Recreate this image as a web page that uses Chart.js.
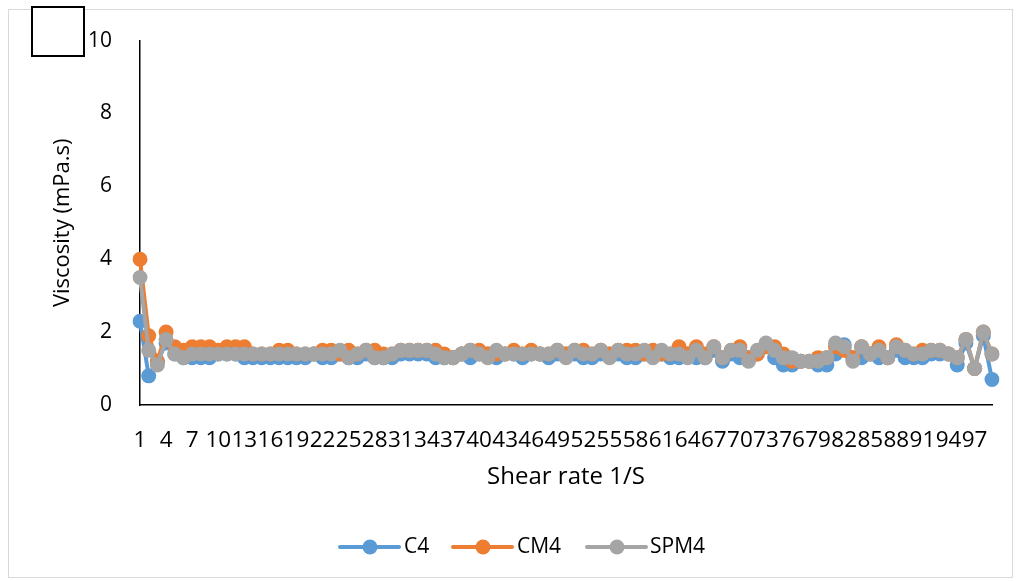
<!DOCTYPE html>
<html>
<head>
<meta charset="utf-8">
<script src="https://cdn.jsdelivr.net/npm/chart.js@4.4.1/dist/chart.umd.min.js"></script>
<style>
  html, body { margin: 0; padding: 0; background: #fff; }
  #wrap { position: relative; width: 1022px; height: 581px; }
  #frame { position: absolute; left: 8px; top: 9px; width: 1005px; height: 569px; border: 1px solid #d9d9d9; box-sizing: border-box; }
  #box { position: absolute; left: 31px; top: 6px; width: 54px; height: 51px; border: 2px solid #000; background: #fff; box-sizing: border-box; z-index: 2; }
  canvas { position: absolute; left: 0; top: 0; }
</style>
</head>
<body>
<div id="wrap">
  <div id="frame"></div>
  <canvas id="c" width="1022" height="581"></canvas>
  <div id="box"></div>
</div>
<script>
const categories = Array.from({length: 99}, (_, i) => String(i + 1));

const c4 = [2.3,0.8,1.2,1.7,1.4,1.3,1.3,1.3,1.3,1.4, 1.4,1.4,1.3,1.3,1.3,1.3,1.3,1.3,1.3,1.3,
            1.4,1.3,1.3,1.4,1.3,1.3,1.4,1.3,1.3,1.3, 1.4,1.4,1.4,1.4,1.3,1.3,1.3,1.4,1.3,1.4,
            1.4,1.3,1.4,1.4,1.3,1.4,1.4,1.3,1.4,1.4, 1.4,1.3,1.3,1.4,1.4,1.4,1.3,1.3,1.4,1.4,
            1.4,1.3,1.3,1.4,1.3,1.3,1.5,1.2,1.4,1.3, 1.3,1.4,1.6,1.3,1.1,1.1,1.2,1.2,1.1,1.1,
            1.4,1.65,1.3,1.3,1.4,1.3,1.3,1.5,1.3,1.3, 1.3,1.4,1.4,1.4,1.1,1.7,1.0,1.9,0.7];

const cm4 = [4.0,1.9,1.2,2.0,1.6,1.5,1.6,1.6,1.6,1.5, 1.6,1.6,1.6,1.4,1.4,1.4,1.5,1.5,1.4,1.4,
             1.4,1.5,1.5,1.4,1.5,1.4,1.5,1.5,1.4,1.4, 1.5,1.5,1.5,1.5,1.5,1.4,1.3,1.4,1.5,1.5,
             1.4,1.4,1.4,1.5,1.4,1.5,1.4,1.4,1.5,1.4, 1.5,1.5,1.4,1.5,1.4,1.5,1.5,1.5,1.4,1.5,
             1.4,1.4,1.6,1.4,1.6,1.4,1.6,1.3,1.5,1.6, 1.3,1.4,1.6,1.6,1.4,1.2,1.2,1.2,1.3,1.3,
             1.6,1.5,1.3,1.6,1.4,1.6,1.3,1.65,1.5,1.4, 1.5,1.5,1.5,1.4,1.3,1.8,1.0,2.0,1.4];

const spm4 = [3.5,1.5,1.1,1.8,1.4,1.3,1.4,1.4,1.4,1.4, 1.4,1.4,1.4,1.4,1.4,1.4,1.4,1.4,1.4,1.4,
              1.4,1.4,1.4,1.5,1.3,1.4,1.5,1.3,1.3,1.4, 1.5,1.5,1.5,1.5,1.4,1.3,1.3,1.4,1.5,1.4,
              1.3,1.5,1.4,1.4,1.4,1.4,1.4,1.4,1.5,1.3, 1.5,1.4,1.4,1.5,1.3,1.5,1.4,1.4,1.5,1.3,
              1.5,1.4,1.4,1.3,1.5,1.3,1.6,1.3,1.5,1.5, 1.2,1.5,1.7,1.5,1.3,1.3,1.2,1.2,1.2,1.3,
              1.7,1.6,1.2,1.6,1.4,1.5,1.3,1.6,1.5,1.4, 1.4,1.5,1.5,1.4,1.3,1.8,1.0,2.0,1.4];

const seriesNames = ['C4', 'CM4', 'SPM4'];
const seriesColors = ['#5B9BD5', '#ED7D31', '#A5A5A5'];
const yTicks = [0, 2, 4, 6, 8, 10];

const FONT = "'Open Sans', 'Noto Sans', sans-serif";

function ds(name, data, color, order) {
  return {
    label: name, data: data, order: order,
    borderColor: color, backgroundColor: color,
    pointBackgroundColor: color, pointBorderColor: color,
    borderWidth: 4, pointRadius: 7.5, pointBorderWidth: 0,
    tension: 0, fill: false
  };
}

const legendPlugin = {
  id: 'customLegend',
  afterDraw(chart) {
    const ctx = chart.ctx;
    const y = 547;
    const items = [
      {x: 340, tx: 404},
      {x: 453, tx: 517},
      {x: 587, tx: 650}
    ];
    ctx.save();
    chart.data.datasets.forEach((d, i) => {
      const it = items[i];
      ctx.strokeStyle = d.borderColor;
      ctx.lineWidth = 4;
      ctx.lineCap = 'round';
      ctx.beginPath();
      ctx.moveTo(it.x, y);
      ctx.lineTo(it.x + 59, y);
      ctx.stroke();
      ctx.fillStyle = d.borderColor;
      ctx.beginPath();
      ctx.arc(it.x + 30, y, 7.5, 0, Math.PI * 2);
      ctx.fill();
      ctx.fillStyle = '#000';
      ctx.font = '21px ' + FONT;
      ctx.textBaseline = 'middle';
      ctx.textAlign = 'left';
      ctx.fillText(d.label, it.tx, y);
    });
    ctx.restore();
  }
};

new Chart(document.getElementById('c'), {
  type: 'line',
  data: {
    labels: categories,
    datasets: [
      ds(seriesNames[0], c4, seriesColors[0], 3),
      ds(seriesNames[1], cm4, seriesColors[1], 2),
      ds(seriesNames[2], spm4, seriesColors[2], 1)
    ]
  },
  options: {
    responsive: false,
    animation: false,
    devicePixelRatio: 1,
    layout: { padding: { left: 40, right: 30, top: 38, bottom: 76 } },
    plugins: { legend: { display: false }, tooltip: { enabled: false } },
    scales: {
      x: {
        offset: false,
        grid: { display: false, drawTicks: false },
        border: { display: true, color: '#000', width: 1.5 },
        ticks: {
          autoSkip: false, maxRotation: 0, minRotation: 0,
          padding: 22, color: '#000',
          font: { family: FONT, size: 22.5 },
          callback: function(v, i) { return (i % 3 === 0) ? categories[i] : ''; }
        },
        title: { display: true, text: 'Shear rate 1/S', color: '#000',
                 font: { family: FONT, size: 24 }, padding: { top: 0, bottom: 13 } },
        afterFit: function(s) { s.height = 100; }
      },
      y: {
        min: 0, max: 10,
        grid: { display: false, drawTicks: false },
        border: { display: true, color: '#000', width: 1.5 },
        afterBuildTicks: function(s) { s.ticks = yTicks.map(v => ({ value: v })); },
        ticks: { padding: 28, color: '#000', font: { family: FONT, size: 21 } },
        title: { display: true, text: 'Viscosity (mPa.s)', color: '#000',
                 font: { family: FONT, size: 22 }, padding: { top: 10, bottom: 0 } },
        afterFit: function(s) { s.width = 100; }
      }
    }
  },
  plugins: [legendPlugin]
});
</script>
</body>
</html>
